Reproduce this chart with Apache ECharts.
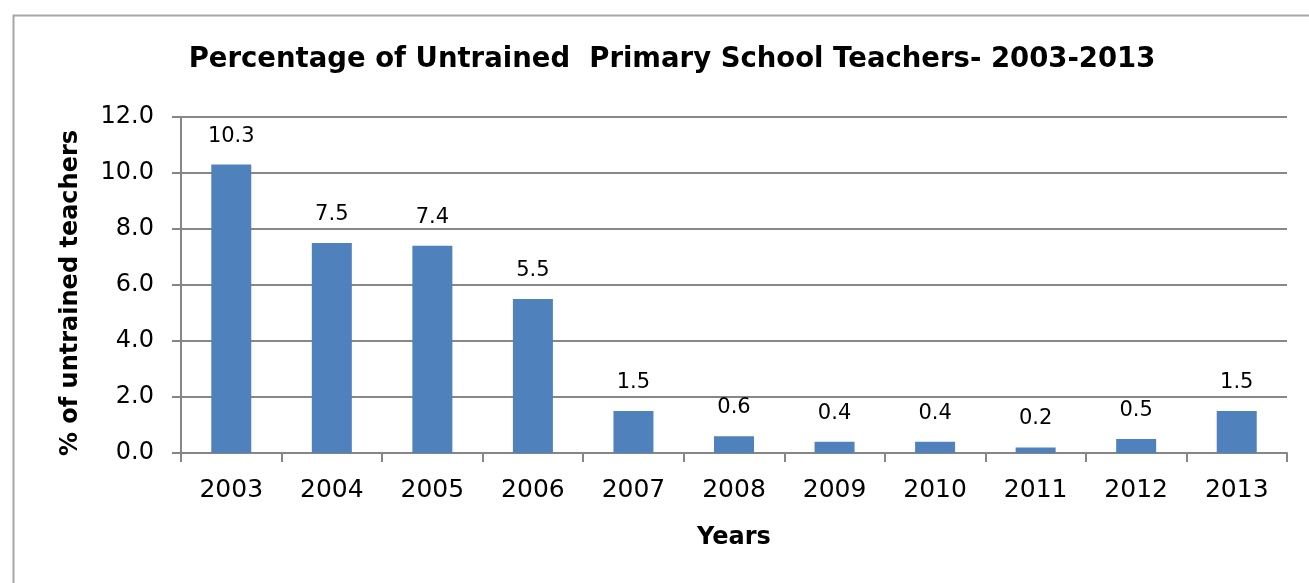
<!DOCTYPE html>
<html>
<head>
<meta charset="utf-8">
<script src="https://cdn.jsdelivr.net/npm/echarts@6/dist/echarts.min.js"></script>
<style>
html,body{margin:0;padding:0;background:#fff;}
#chart{width:1309px;height:583px;}
</style>
</head>
<body>
<div id="chart"></div>
<script>
const years = ['2003','2004','2005','2006','2007','2008','2009','2010','2011','2012','2013'];
const untrainedPct = [10.3, 7.5, 7.4, 5.5, 1.5, 0.6, 0.4, 0.4, 0.2, 0.5, 1.5];
const titleText = 'Percentage of Untrained  Primary School Teachers- 2003-2013';
const yAxisName = '% of untrained teachers';
const xAxisName = 'Years';

const FONT = 'DejaVu Sans';
const chart = echarts.init(document.getElementById('chart'), null, {renderer:'canvas'});
chart.setOption({
  backgroundColor: '#ffffff',
  animation: false,
  graphic: [{
    type: 'rect', left: 11, top: 13,
    shape: {width: 1320, height: 620},
    style: {fill: 'none', stroke: '#a6a6a6', lineWidth: 2},
    silent: true
  }],
  title: {
    text: titleText,
    left: 667, top: 41, textAlign: 'center',
    textStyle: {fontFamily: FONT, fontWeight: 'bold', fontSize: 27.5, color: '#000'}
  },
  grid: {left: 181, right: 22, top: 117, bottom: 130, containLabel: false},
  xAxis: {
    type: 'category',
    data: years,
    name: xAxisName,
    nameLocation: 'middle',
    nameGap: 73,
    nameTextStyle: {fontFamily: FONT, fontWeight: 'bold', fontSize: 24, color: '#000'},
    axisLine: {lineStyle: {color: '#868686', width: 2}},
    axisTick: {show: true, length: 9, lineStyle: {color: '#868686', width: 2}},
    axisLabel: {fontFamily: FONT, fontSize: 25, color: '#000', margin: 25}
  },
  yAxis: {
    type: 'value',
    min: 0, max: 12, interval: 2,
    name: yAxisName,
    nameLocation: 'middle',
    nameGap: 98,
    nameTextStyle: {fontFamily: FONT, fontWeight: 'bold', fontSize: 24, color: '#000', padding: [0, 16, 0, 0]},
    axisLine: {show: true, lineStyle: {color: '#868686', width: 2}},
    axisTick: {show: true, length: 9, lineStyle: {color: '#868686', width: 2}},
    axisLabel: {fontFamily: FONT, fontSize: 24, color: '#000', margin: 27,
      formatter: v => v.toFixed(1)},
    splitLine: {show: true, lineStyle: {color: '#878787', width: 2}}
  },
  series: [{
    type: 'bar',
    data: untrainedPct,
    barWidth: 40,
    itemStyle: {color: '#4F81BD'},
    label: {
      show: true, position: 'top', distance: 18,
      fontFamily: FONT, fontSize: 21, color: '#000',
      formatter: p => p.value.toFixed(1)
    }
  }]
});
</script>
</body>
</html>
